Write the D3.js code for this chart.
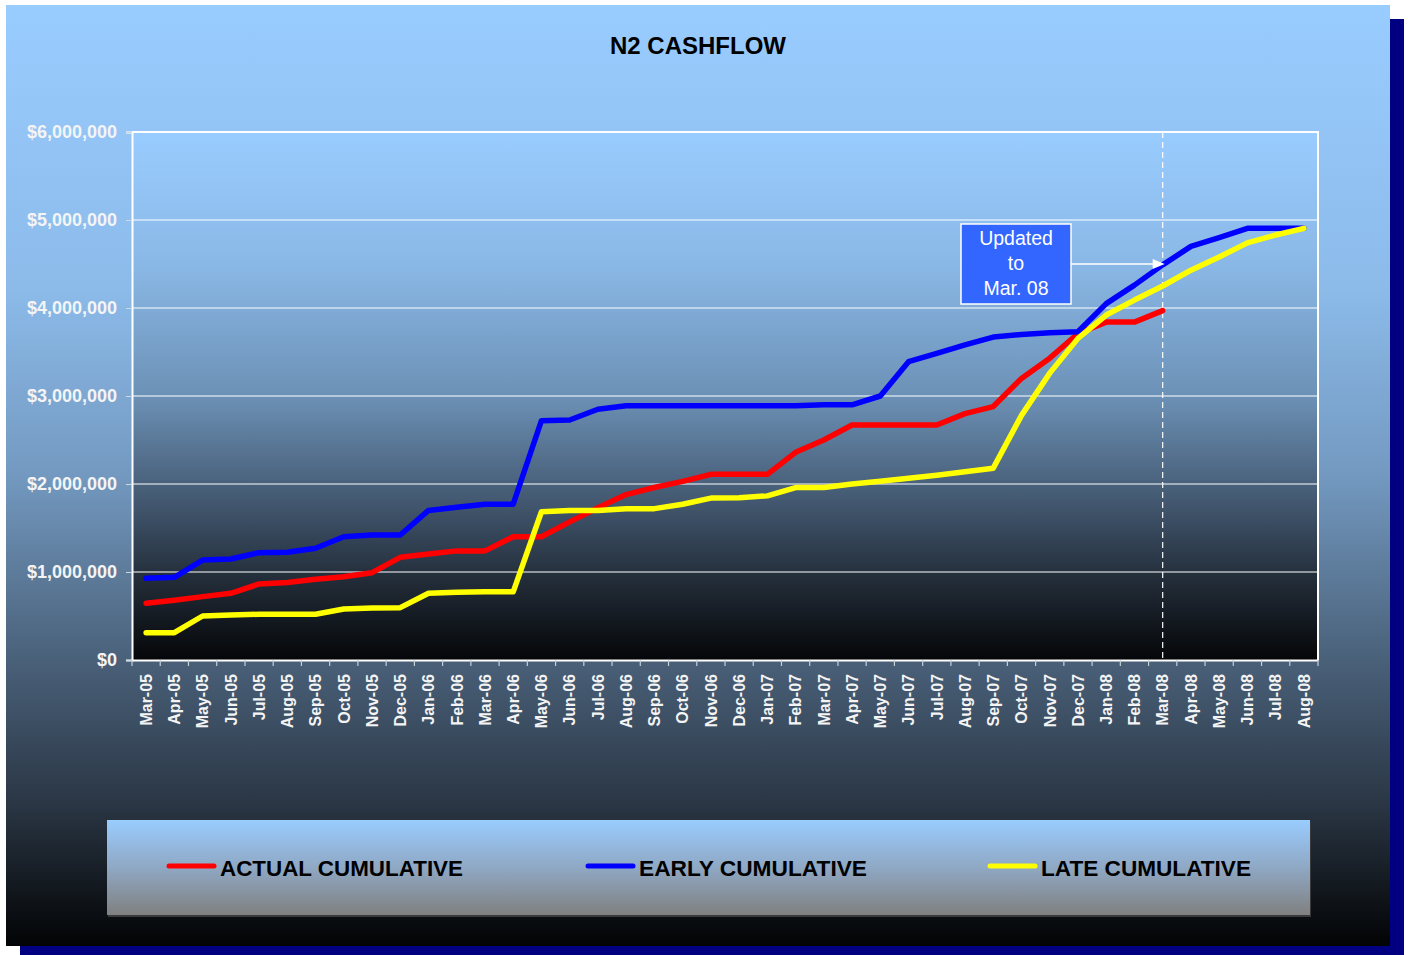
<!DOCTYPE html>
<html lang="en">
<head>
<meta charset="utf-8">
<title>N2 CASHFLOW</title>
<script src="https://d3js.org/d3.v7.min.js"></script>
<style>
  body { margin: 0; background: #fff; }
  svg text { font-family: Arial, "Liberation Sans", sans-serif; }
</style>
</head>
<body>
<svg id="chart"></svg>
<script>
var width = 1408,
    height = 955;

// month labels on the x axis
var months = ["Mar-05","Apr-05","May-05","Jun-05","Jul-05","Aug-05","Sep-05","Oct-05","Nov-05","Dec-05",
  "Jan-06","Feb-06","Mar-06","Apr-06","May-06","Jun-06","Jul-06","Aug-06","Sep-06","Oct-06","Nov-06","Dec-06",
  "Jan-07","Feb-07","Mar-07","Apr-07","May-07","Jun-07","Jul-07","Aug-07","Sep-07","Oct-07","Nov-07","Dec-07",
  "Jan-08","Feb-08","Mar-08","Apr-08","May-08","Jun-08","Jul-08","Aug-08"];

// cumulative values, $ millions (actual stops at Mar-08)
var actual = [0.644,0.68,0.72,0.758,0.864,0.88,0.917,0.947,0.992,1.167,
  1.205,1.24,1.24,1.40,1.40,1.57,1.73,1.88,1.96,2.03,2.11,2.11,
  2.11,2.36,2.50,2.67,2.67,2.67,2.67,2.80,2.88,3.20,3.43,3.71,
  3.84,3.84,3.97];

var early = [0.928,0.94,1.136,1.148,1.22,1.225,1.27,1.40,1.42,1.42,
  1.70,1.735,1.77,1.77,2.72,2.727,2.85,2.89,2.89,2.89,2.89,2.89,
  2.89,2.89,2.90,2.90,3.0,3.39,3.485,3.58,3.67,3.70,3.72,3.73,
  4.05,4.26,4.49,4.70,4.80,4.905,4.905,4.905];

var late = [0.31,0.31,0.50,0.51,0.52,0.52,0.52,0.58,0.59,0.595,
  0.758,0.77,0.775,0.775,1.685,1.70,1.70,1.72,1.72,1.77,1.84,1.845,
  1.865,1.96,1.96,2.0,2.03,2.065,2.10,2.14,2.18,2.78,3.26,3.655,
  3.92,4.09,4.25,4.43,4.58,4.74,4.83,4.905];

var seriesNames = ["ACTUAL CUMULATIVE", "EARLY CUMULATIVE", "LATE CUMULATIVE"];
var seriesColors = ["#ff0000", "#0000ff", "#ffff00"];
var yTicks = [0, 1e6, 2e6, 3e6, 4e6, 5e6, 6e6];
var updatedMonth = "Mar-08";

var svg = d3.select("#chart")
    .attr("width", width)
    .attr("height", height);

var defs = svg.append("defs");

function addGrad(id, stops) {
    var g = defs.append("linearGradient")
        .attr("id", id)
        .attr("x1", 0).attr("y1", 0).attr("x2", 0).attr("y2", 1);
    stops.forEach(function(s) {
        g.append("stop").attr("offset", s[0]).attr("stop-color", s[1]);
    });
}

addGrad("bgGrad", [[0, "#99ccff"], [0.3, "#8cbbea"], [0.5, "#7399c0"], [0.68, "#4d657f"],
                   [0.85, "#2a3644"], [1, "#020304"]]);
addGrad("plotGrad", [[0, "#99ccff"], [0.25, "#8ab8e6"], [0.5, "#6c91b6"], [0.7, "#435870"],
                     [0.85, "#222c38"], [1, "#050608"]]);
addGrad("legGrad", [[0, "#99ccff"], [0.5, "#8fa8c4"], [1, "#808080"]]);

// frame + shadow
svg.append("rect").attr("x", 20).attr("y", 19).attr("width", 1384).attr("height", 936)
    .attr("fill", "#000080");
svg.append("rect").attr("x", 6).attr("y", 5).attr("width", 1384).attr("height", 941)
    .attr("fill", "url(#bgGrad)");

var plot = {left: 132, right: 1318, top: 132, bottom: 660};

var x = d3.scaleBand()
    .domain(months)
    .range([plot.left, plot.right]);

var y = d3.scaleLinear()
    .domain([0, 6e6])
    .range([plot.bottom, plot.top]);

function cx(m) { return x(m) + x.bandwidth() / 2; }

svg.append("rect")
    .attr("x", plot.left).attr("y", plot.top)
    .attr("width", plot.right - plot.left).attr("height", plot.bottom - plot.top)
    .attr("fill", "url(#plotGrad)");

// title
svg.append("text")
    .attr("x", 698).attr("y", 54)
    .attr("text-anchor", "middle")
    .style("font-size", "24px").style("font-weight", "bold")
    .attr("fill", "#000")
    .text("N2 CASHFLOW");

// gridlines
svg.append("g").selectAll("line")
    .data(yTicks.slice(1))
    .join("line")
    .attr("x1", plot.left).attr("x2", plot.right)
    .attr("y1", function(d) { return y(d); })
    .attr("y2", function(d) { return y(d); })
    .attr("stroke", "#ffffff").attr("stroke-width", 1.2);

// y axis
var yAxis = svg.append("g")
    .attr("transform", "translate(" + plot.left + ",0)")
    .call(d3.axisLeft(y).tickValues(yTicks).tickSize(6).tickPadding(9)
        .tickFormat(d3.format("$,.0f")));
yAxis.select(".domain").attr("stroke", "#ffffff").attr("stroke-width", 2);
yAxis.selectAll(".tick line").attr("stroke", "#d0d8e0");
yAxis.selectAll("text")
    .attr("fill", "#f4f4f4")
    .style("font-size", "18px").style("font-weight", "bold")
    .style("font-family", "Arial, 'Liberation Sans', sans-serif");

// top and right border
svg.append("path")
    .attr("d", "M" + plot.left + "," + plot.top + "H" + plot.right + "V" + plot.bottom)
    .attr("fill", "none").attr("stroke", "#ffffff").attr("stroke-width", 2);

// x axis
var xAxis = svg.append("g")
    .attr("transform", "translate(0," + plot.bottom + ")")
    .call(d3.axisBottom(x).tickSize(0).tickPadding(0));
xAxis.select(".domain").attr("stroke", "#ffffff").attr("stroke-width", 2);
xAxis.selectAll("text")
    .attr("transform", "rotate(-90)")
    .attr("x", -14).attr("y", 0).attr("dy", "0.36em")
    .attr("text-anchor", "end")
    .attr("fill", "#f4f4f4")
    .style("font-size", "16px").style("font-weight", "bold")
    .style("font-family", "Arial, 'Liberation Sans', sans-serif");

// x ticks between categories
var edges = d3.range(months.length + 1).map(function(i) { return plot.left + i * x.step(); });
svg.append("g").selectAll("line")
    .data(edges)
    .join("line")
    .attr("x1", function(d) { return d; }).attr("x2", function(d) { return d; })
    .attr("y1", plot.bottom).attr("y2", plot.bottom + 6)
    .attr("stroke", "#c8d0d8").attr("stroke-width", 1.2);

// dashed "updated" marker
svg.append("line")
    .attr("x1", cx(updatedMonth)).attr("x2", cx(updatedMonth))
    .attr("y1", plot.top).attr("y2", plot.bottom)
    .attr("stroke", "#ffffff").attr("stroke-width", 1.2)
    .attr("stroke-dasharray", "6,4");

// series lines
var line = d3.line()
    .x(function(d, i) { return cx(months[i]); })
    .y(function(d) { return y(d * 1e6); });

[actual, early, late].forEach(function(data, k) {
    svg.append("path")
        .datum(data)
        .attr("d", line)
        .attr("fill", "none")
        .attr("stroke", seriesColors[k])
        .attr("stroke-width", 5.5)
        .attr("stroke-linejoin", "round")
        .attr("stroke-linecap", "round");
});

// annotation box
var box = {x: 961, y: 224, w: 110, h: 80};
svg.append("rect")
    .attr("x", box.x).attr("y", box.y).attr("width", box.w).attr("height", box.h)
    .attr("fill", "#3366ff").attr("stroke", "#ffffff").attr("stroke-width", 1.5);
["Updated", "to", "Mar. 08"].forEach(function(t, i) {
    svg.append("text")
        .attr("x", box.x + box.w / 2).attr("y", box.y + 21 + i * 25)
        .attr("text-anchor", "middle")
        .attr("fill", "#ffffff")
        .style("font-size", "19.5px")
        .text(t);
});
var arrowY = box.y + 40;
var tipX = cx(updatedMonth) + 2;
svg.append("line")
    .attr("x1", box.x + box.w).attr("x2", tipX - 10)
    .attr("y1", arrowY).attr("y2", arrowY)
    .attr("stroke", "#ffffff").attr("stroke-width", 1.5);
svg.append("path")
    .attr("d", "M" + tipX + "," + arrowY + "L" + (tipX - 12) + "," + (arrowY - 5) +
               "L" + (tipX - 12) + "," + (arrowY + 5) + "Z")
    .attr("fill", "#ffffff");

// legend
var leg = {x: 107, y: 820, w: 1203, h: 95};
svg.append("rect")
    .attr("x", leg.x + 1).attr("y", leg.y + 2).attr("width", leg.w).attr("height", leg.h)
    .attr("fill", "#3a3a3a");
svg.append("rect")
    .attr("x", leg.x).attr("y", leg.y).attr("width", leg.w).attr("height", leg.h)
    .attr("fill", "url(#legGrad)");

var legX = [167, 586, 988];
var legTextW = [243, 228, 210];
seriesNames.forEach(function(name, k) {
    svg.append("line")
        .attr("x1", legX[k] + 2).attr("x2", legX[k] + 47)
        .attr("y1", 866).attr("y2", 866)
        .attr("stroke", seriesColors[k]).attr("stroke-width", 5)
        .attr("stroke-linecap", "round");
    svg.append("text")
        .attr("x", legX[k] + 53).attr("y", 876)
        .attr("fill", "#000")
        .attr("textLength", legTextW[k])
        .attr("lengthAdjust", "spacingAndGlyphs")
        .style("font-size", "22px").style("font-weight", "bold")
        .text(name);
});
</script>
</body>
</html>
